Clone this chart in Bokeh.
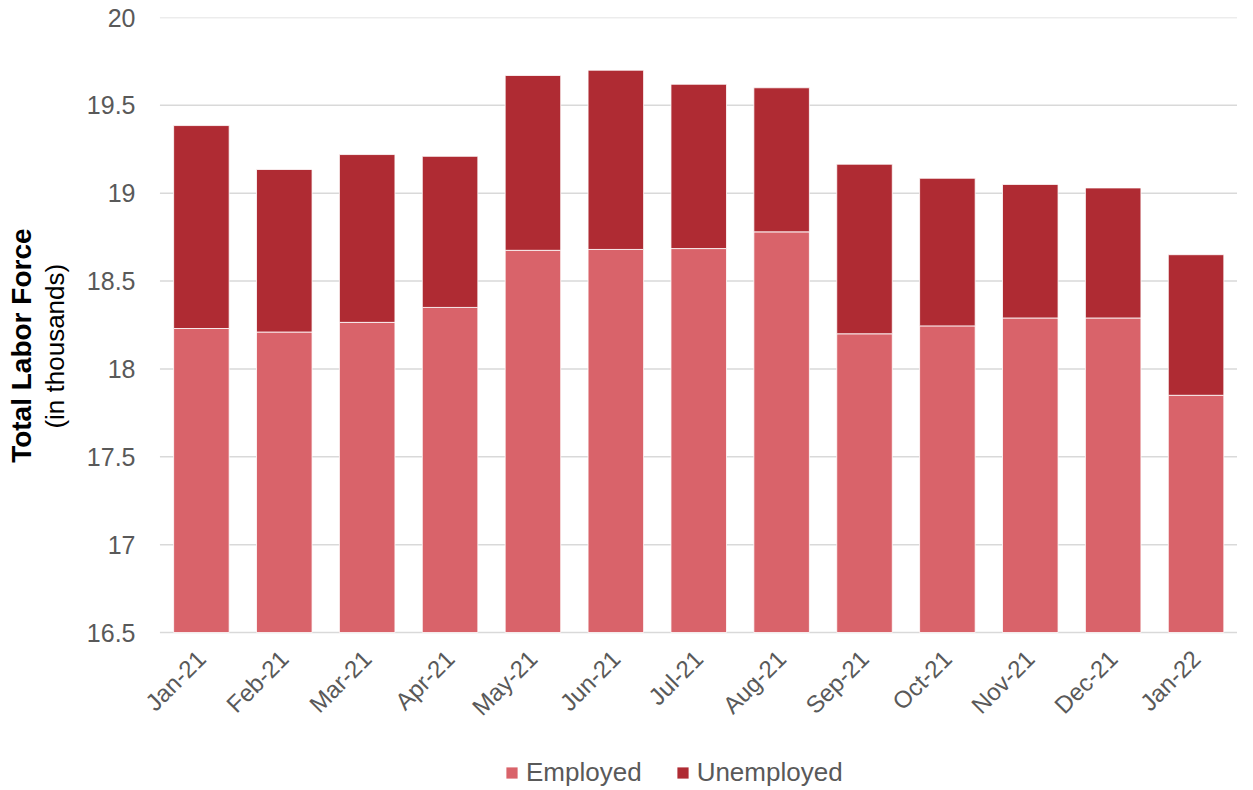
import math
from bokeh.plotting import figure
from bokeh.models import LinearAxis, FixedTicker, Legend, LegendItem, Range1d, ColumnDataSource
from bokeh.embed import file_html
from bokeh.resources import INLINE

months = ["Jan-21", "Feb-21", "Mar-21", "Apr-21", "May-21", "Jun-21", "Jul-21",
          "Aug-21", "Sep-21", "Oct-21", "Nov-21", "Dec-21", "Jan-22"]
employed = [18.23, 18.21, 18.265, 18.35, 18.675, 18.68, 18.685, 18.78, 18.20, 18.245, 18.29, 18.29, 17.85]
unemployed = [1.155, 0.925, 0.955, 0.86, 0.995, 1.02, 0.935, 0.82, 0.965, 0.84, 0.76, 0.74, 0.80]
y_ticks = [16.5, 17, 17.5, 18, 18.5, 19, 19.5, 20]
series = ["Employed", "Unemployed"]
colors = ["#D9636A", "#AF2B33"]

FONT = "Liberation Sans"
GREY = "#595959"
NB = "\u00a0"

# layout: axis baseline 16.5 sits 158px above the frame bottom, legend lives in that band
Y_MIN, Y_MAX = 16.5, 20.0
PLOT_H, BAND_H = 615, 158
y_start = Y_MIN - (Y_MAX - Y_MIN) * BAND_H / PLOT_H
N = len(months)
X_START, X_END = -0.295, N  # a little room on the left so the first rotated label is not clipped

p = figure(x_range=Range1d(X_START, X_END), y_range=Range1d(y_start, Y_MAX), frame_width=1102,
           frame_height=PLOT_H + BAND_H, output_backend="svg", toolbar_location=None,
           min_border_left=135, min_border_top=17, min_border_right=0, min_border_bottom=0)
p.outline_line_color = None
p.xgrid.grid_line_color = None
p.ygrid.grid_line_color = None

# horizontal gridlines spanning only the category area
p.segment(x0=0, x1=N, y0=y_ticks, y1=y_ticks, line_color="#D9D9D9", line_width=1.5)

xpos = [i + 0.5 for i in range(N)]
totals = [e + u for e, u in zip(employed, unemployed)]
src = ColumnDataSource(dict(x=xpos, employed=employed, totals=totals))
r_emp = p.vbar(x="x", width=0.67, bottom=Y_MIN, top="employed", source=src,
               fill_color=colors[0], line_color="white", line_width=0.8)
r_unemp = p.vbar(x="x", width=0.67, bottom="employed", top="totals", source=src,
                 fill_color=colors[1], line_color="white", line_width=0.8)

# y axis
p.yaxis.ticker = FixedTicker(ticks=y_ticks)
p.yaxis.axis_line_color = None
p.yaxis.major_tick_line_color = None
p.yaxis.minor_tick_line_color = None
p.yaxis.major_tick_out = 0
p.yaxis.major_label_standoff = 0
p.yaxis.major_label_text_font = FONT
p.yaxis.major_label_text_font_size = "25px"
p.yaxis.major_label_text_color = GREY
p.yaxis.axis_label = NB * 16 + "(in thousands)"
p.yaxis.axis_label_text_font = FONT
p.yaxis.axis_label_text_font_size = "26px"
p.yaxis.axis_label_text_font_style = "normal"
p.yaxis.axis_label_text_color = "black"
p.yaxis.axis_label_standoff = 14

outer = LinearAxis(axis_label=NB * 15 + "Total Labor Force", ticker=FixedTicker(ticks=[]),
                   axis_line_color=None, major_tick_line_color=None,
                   minor_tick_line_color=None, major_label_text_font_size="0px",
                   axis_label_text_font=FONT, axis_label_text_font_size="28px",
                   axis_label_text_font_style="bold", axis_label_text_color="black",
                   axis_label_standoff=0)
p.add_layout(outer, "left")

# x axis drawn at the 16.5 baseline
p.xaxis.fixed_location = Y_MIN
p.xaxis.ticker = FixedTicker(ticks=xpos)
p.xaxis.major_label_overrides = {x: m for x, m in zip(xpos, months)}
p.xaxis.axis_line_color = None
p.xaxis.major_tick_line_color = None
p.xaxis.minor_tick_line_color = None
p.xaxis.major_tick_out = 0
p.xaxis.major_tick_in = 0
p.xaxis.major_label_orientation = math.pi / 4
p.xaxis.major_label_standoff = 22
p.xaxis.major_label_text_font = FONT
p.xaxis.major_label_text_font_size = "24px"
p.xaxis.major_label_text_color = GREY

legend = Legend(items=[LegendItem(label=s, renderers=[r]) for s, r in zip(series, [r_emp, r_unemp])],
                orientation="horizontal", location=(369, 2),
                label_text_font=FONT, label_text_font_size="26px", label_text_color=GREY,
                label_height=26, glyph_width=15, glyph_height=15, spacing=33, label_standoff=7,
                border_line_color=None, background_fill_alpha=0, margin=0, padding=0)
p.add_layout(legend, "center")

open("out.html", "w").write(file_html(p, INLINE))
